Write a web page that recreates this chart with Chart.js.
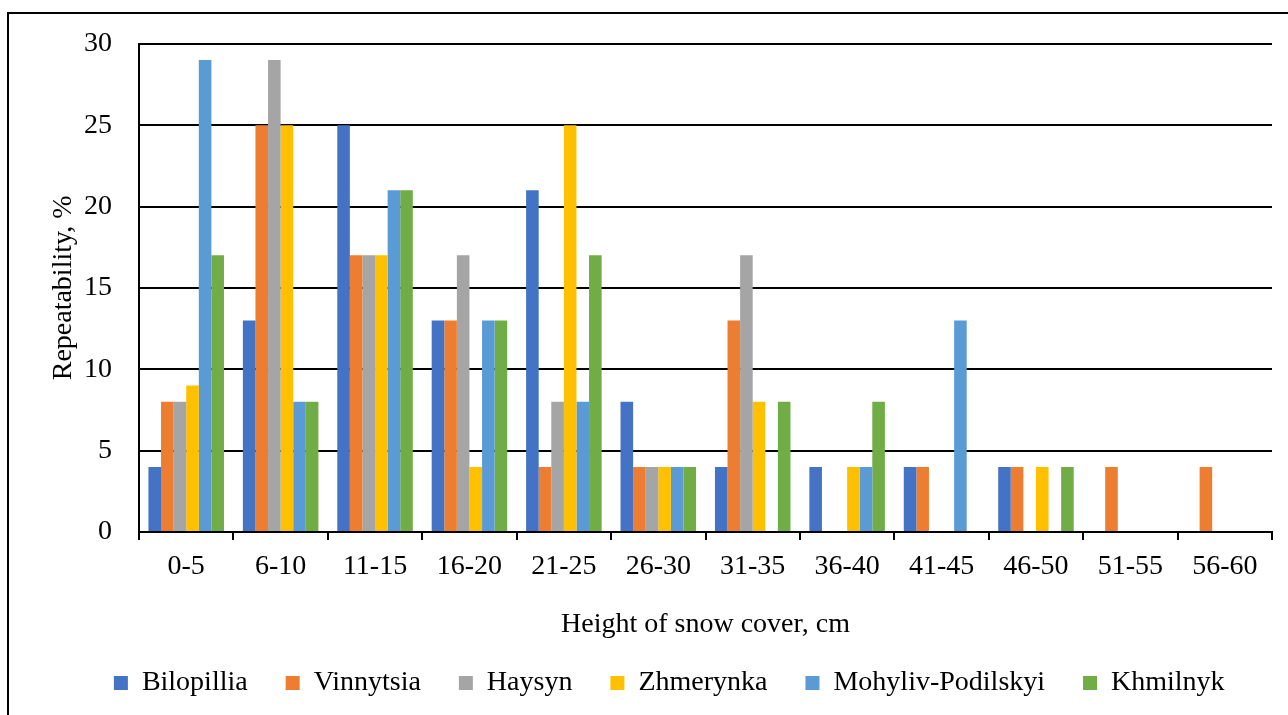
<!DOCTYPE html>
<html>
<head>
<meta charset="utf-8">
<title>Snow cover height repeatability</title>
<script src="https://cdn.jsdelivr.net/npm/chart.js@4.4.1/dist/chart.umd.min.js"></script>
<style>
  html, body { margin: 0; padding: 0; background: #ffffff; overflow: hidden; }
  #frame {
    position: absolute; left: 7px; top: 12px;
    width: 1400px; height: 800px;
    border: 2px solid #000; box-sizing: border-box;
  }
  #wrap { position: absolute; left: 0; top: 0; width: 1288px; height: 715px; }
</style>
</head>
<body>
<div id="frame"></div>
<div id="wrap"><canvas id="chart" width="1288" height="715"></canvas></div>
<script>
// Snow cover height classes, cm
const categories = ['0-5', '6-10', '11-15', '16-20', '21-25', '26-30',
                    '31-35', '36-40', '41-45', '46-50', '51-55', '56-60'];

// Repeatability of each class at the stations, %
const bilopillia = [4, 13, 25, 13, 21, 8, 4, 4, 4, 4, 0, 0];
const vinnytsia  = [8, 25, 17, 13, 4, 4, 13, 0, 4, 4, 4, 4];
const haysyn     = [8, 29, 17, 17, 8, 4, 17, 0, 0, 0, 0, 0];
const zhmerynka  = [9, 25, 17, 4, 25, 4, 8, 4, 0, 4, 0, 0];
const mohyliv    = [29, 8, 21, 13, 8, 4, 0, 4, 13, 0, 0, 0];
const khmilnyk   = [17, 8, 21, 13, 17, 4, 8, 8, 0, 4, 0, 0];

const stationNames = ['Bilopillia', 'Vinnytsia', 'Haysyn', 'Zhmerynka', 'Mohyliv-Podilskyi', 'Khmilnyk'];
const stationColors = ['#4472C4', '#ED7D31', '#A5A5A5', '#FFC000', '#5B9BD5', '#70AD47'];
const stationValues = [bilopillia, vinnytsia, haysyn, zhmerynka, mohyliv, khmilnyk];

const FONT = '"Liberation Serif", "Times New Roman", serif';
const FS = 28;

const datasets = stationNames.map((name, i) => ({
  label: name,
  data: stationValues[i],
  backgroundColor: stationColors[i],
  borderWidth: 0,
  categoryPercentage: 0.80,
  barPercentage: 1.0
}));

new Chart(document.getElementById('chart'), {
  type: 'bar',
  data: { labels: categories, datasets },
  options: {
    responsive: false,
    animation: false,
    layout: { padding: { left: 66.5, right: 16, top: 42, bottom: 8 } },
    plugins: {
      tooltip: { enabled: false },
      legend: {
        position: 'bottom',
        labels: {
          color: '#000',
          font: { family: FONT, size: FS },
          boxWidth: 14,
          boxHeight: 14,
          padding: 38
        }
      }
    },
    scales: {
      x: {
        afterFit: (s) => { s.height = 99; },
        grid: {
          display: true,
          drawOnChartArea: false,
          drawTicks: true,
          tickLength: 8,
          color: '#000',
          lineWidth: 2,
          offset: true
        },
        border: { display: true, color: '#000', width: 2 },
        ticks: {
          color: '#000',
          font: { family: FONT, size: FS },
          padding: 10,
          maxRotation: 0,
          autoSkip: false
        },
        title: {
          display: true,
          text: 'Height of snow cover, cm',
          color: '#000',
          font: { family: FONT, size: FS },
          padding: { top: 0, bottom: -10 }
        }
      },
      y: {
        min: 0,
        max: 30,
        afterFit: (s) => { s.width = 139 - 66.5; },
        grid: {
          color: '#000',
          lineWidth: 2,
          drawTicks: false
        },
        border: { display: true, color: '#000', width: 2 },
        ticks: {
          stepSize: 5,
          color: '#000',
          font: { family: FONT, size: FS },
          padding: 27
        },
        title: {
          display: true,
          text: 'Repeatability, %',
          color: '#000',
          font: { family: FONT, size: FS },
          padding: { top: -20, bottom: 0 }
        }
      }
    }
  }
});
</script>
</body>
</html>
